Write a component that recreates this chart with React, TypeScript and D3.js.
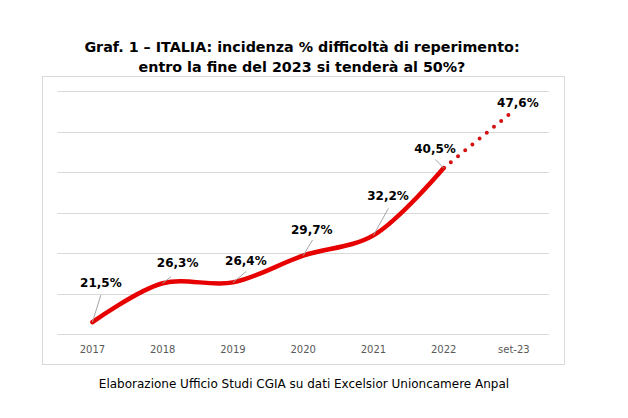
import React from "react";
import * as d3 from "d3";

const categories = ["2017", "2018", "2019", "2020", "2021", "2022", "set-23"];
const values = [21.5, 26.3, 26.4, 29.7, 32.2, 40.5, 47.6];
const valueLabels = ["21,5%", "26,3%", "26,4%", "29,7%", "32,2%", "40,5%", "47,6%"];
const gridTicks = [20, 25, 30, 35, 40, 45, 50];
const titleLines = [
  "Graf. 1 – ITALIA: incidenza % difficoltà di reperimento:",
  "entro la fine del 2023 si tenderà al 50%?",
];
const source = "Elaborazione Ufficio Studi CGIA su dati Excelsior Unioncamere Anpal";

// label placement offsets (style, not data)
const labelOffsets: { lx: number; ly: number; ex: number | null; ey: number | null }[] = [
  { lx: 8.5, ly: -39, ex: 8.4, ey: -27 },
  { lx: 15, ly: -20.5, ex: 8.4, ey: -6.6 },
  { lx: 13, ly: -21.5, ex: 13.4, ey: -11 },
  { lx: 8.7, ly: -25.7, ex: 9.4, ey: -15.7 },
  { lx: 14.7, ly: -39.5, ex: 15, ey: -27 },
  { lx: -8.6, ly: -19.2, ex: -8.3, ey: -8.5 },
  { lx: 4, ly: -7, ex: null, ey: null },
];

const W = 628;
const H = 418;
const FONT = "'DejaVu Sans', Verdana, sans-serif";

export default function App() {
  const x = d3.scalePoint<string>().domain(categories).range([57.3, 549]).padding(0.5);
  const y = d3.scaleLinear().domain([20, 50]).range([334.3, 91]);

  const pts = categories.map((c, i) => ({ c, v: values[i], x: x(c) as number, y: y(values[i]) }));
  const solid = pts.slice(0, 6);
  const dotted = pts.slice(5);

  const line = d3
    .line<{ x: number; y: number }>()
    .x((d) => d.x)
    .y((d) => d.y)
    .curve(d3.curveCatmullRom.alpha(0.5));
  const straight = d3
    .line<{ x: number; y: number }>()
    .x((d) => d.x)
    .y((d) => d.y);

  return (
    <svg
      width={W}
      height={H}
      style={{ position: "absolute", left: 0, top: 0, background: "#fff" }}
      fontFamily={FONT}
    >
      <rect x={0} y={0} width={W} height={H} fill="#fff" />
      {titleLines.map((t, i) => (
        <text
          key={i}
          x={302}
          y={51.5 + i * 20}
          textAnchor="middle"
          fontWeight="bold"
          fontSize={14.3}
          fill="#000"
        >
          {t}
        </text>
      ))}
      <rect x={42.5} y={76.5} width={522} height={288} fill="#fff" stroke="#d9d9d9" strokeWidth={1} />
      {gridTicks.map((t) => (
        <line
          key={t}
          x1={57.3}
          x2={549}
          y1={Math.round(y(t)) + 0.5}
          y2={Math.round(y(t)) + 0.5}
          stroke="#d9d9d9"
          strokeWidth={1}
        />
      ))}
      {categories.map((c) => (
        <text
          key={c}
          x={x(c) as number}
          y={352.5}
          textAnchor="middle"
          fontSize={10}
          fill="#595959"
        >
          {c}
        </text>
      ))}
      <path
        d={line(solid) || ""}
        fill="none"
        stroke="#e60000"
        strokeWidth={4.5}
        strokeLinecap="round"
        strokeLinejoin="round"
      />
      <path
        d={straight(dotted) || ""}
        fill="none"
        stroke="#d41111"
        strokeWidth={4}
        strokeLinecap="round"
        strokeDasharray="0 9.3"
        strokeDashoffset={-9.3}
      />
      {pts.map((p, i) => {
        const o = labelOffsets[i];
        return (
          <g key={p.c}>
            {o.ex !== null && o.ey !== null && (
              <line
                x1={p.x}
                y1={p.y}
                x2={p.x + o.ex}
                y2={p.y + o.ey}
                stroke="#a6a6a6"
                strokeWidth={1}
              />
            )}
            <text
              x={p.x + o.lx}
              y={p.y + o.ly}
              textAnchor="middle"
              dominantBaseline="central"
              fontWeight="bold"
              fontSize={12}
              fill="#000"
            >
              {valueLabels[i]}
            </text>
          </g>
        );
      })}
      <text x={304} y={388} textAnchor="middle" fontSize={12} fill="#000">
        {source}
      </text>
    </svg>
  );
}
